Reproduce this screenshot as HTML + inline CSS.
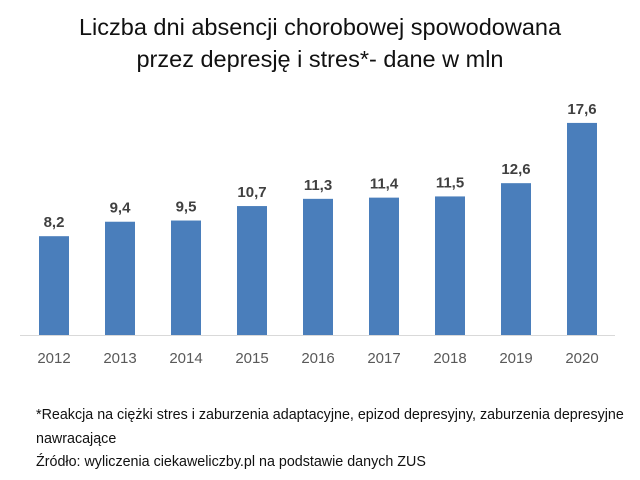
<!DOCTYPE html>
<html><head><meta charset="utf-8"><style>
body{margin:0;width:640px;height:480px;background:#fff;font-family:"Liberation Sans",sans-serif;overflow:hidden}
.t{position:absolute;left:0;width:640px;text-align:center;font-size:23.5px;color:#111}
.f{position:absolute;left:36px;font-size:14.3px;color:#111;white-space:nowrap}
</style></head><body>
<div class="t" style="top:14px">Liczba dni absencji chorobowej spowodowana</div>
<div class="t" style="top:46px">przez depresję i stres*- dane w mln</div>
<svg id="c" width="640" height="400" style="position:absolute;left:0;top:0">
<line x1="20" x2="615" y1="335.5" y2="335.5" stroke="#d9d9d9" stroke-width="1"/>
</svg>
<div class="f" style="top:403px;line-height:24px">*Reakcja na ciężki stres i zaburzenia adaptacyjne, epizod depresyjny, zaburzenia depresyjne<br>nawracające</div>
<div class="f" style="top:454px">Źródło: wyliczenia ciekaweliczby.pl na podstawie danych ZUS</div>
<script>
const categories=["2012","2013","2014","2015","2016","2017","2018","2019","2020"];
const values=[8.2,9.4,9.5,10.7,11.3,11.4,11.5,12.6,17.6];
const valueLabels=["8,2","9,4","9,5","10,7","11,3","11,4","11,5","12,6","17,6"];
const svg=document.getElementById('c');
const NS='http://www.w3.org/2000/svg';
const x=i=>39+i*66, bw=30, y=v=>335-v*12.05;
categories.forEach((c,i)=>{
 const r=document.createElementNS(NS,'rect');
 r.setAttribute('x',x(i));r.setAttribute('y',y(values[i]));r.setAttribute('width',bw);r.setAttribute('height',335-y(values[i]));r.setAttribute('fill','#4a7ebb');
 
 
 svg.appendChild(r);
 const t=document.createElementNS(NS,'text');
 t.setAttribute('x',x(i)+bw/2);t.setAttribute('y',y(values[i])-9);t.setAttribute('text-anchor','middle');t.setAttribute('font-size','15');t.setAttribute('font-weight','bold');t.setAttribute('fill','#404040');
 t.textContent=valueLabels[i];
 
 
 svg.appendChild(t);
 const l=document.createElementNS(NS,'text');
 l.setAttribute('x',x(i)+bw/2);l.setAttribute('y',363);l.setAttribute('text-anchor','middle');l.setAttribute('font-size','15');l.setAttribute('fill','#595959');
 l.textContent=c;
 
 
 svg.appendChild(l);
});
</script>
</body></html>
